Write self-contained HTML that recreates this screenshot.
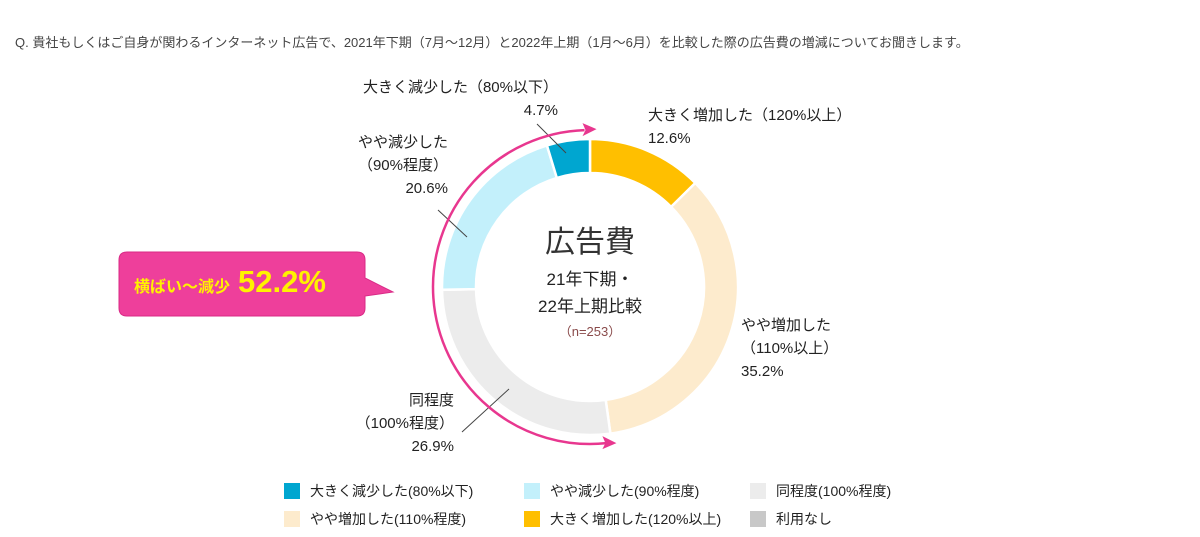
<!DOCTYPE html>
<html><head><meta charset="utf-8">
<style>
body{margin:0;background:#fff;width:1200px;height:532px;overflow:hidden;font-family:"Liberation Sans","Noto Sans CJK JP",sans-serif;color:#333}
svg text{font-family:"Liberation Sans","Noto Sans CJK JP",sans-serif}
</style></head><body>
<svg width="1200" height="532">
<text x="15" y="47" font-size="13" fill="#444">Q.  貴社もしくはご自身が関わるインターネット広告で、2021年下期（7月～12月）と2022年上期（1月～6月）を比較した際の広告費の増減についてお聞きします。</text>
<g id="ring"></g>
<g id="labels"></g>
<text x="590" y="252" font-size="30" text-anchor="middle" fill="#333">広告費</text>
<text x="590" y="285" font-size="17" text-anchor="middle" fill="#222">21年下期・</text>
<text x="590" y="312" font-size="17" text-anchor="middle" fill="#222">22年上期比較</text>
<text x="590" y="336" font-size="13" text-anchor="middle" fill="#8a4b4b">（n=253）</text>
<g>
<path id="arc" fill="none" stroke="#e8378f" stroke-width="2.5"/>
<polygon id="ah1" fill="#e8378f"/><polygon id="ah2" fill="#e8378f"/>
</g>
<g>
<path d="M127,252 H357 Q365,252 365,260 V278 L393,292 L365,296 V308 Q365,316 357,316 H127 Q119,316 119,308 V260 Q119,252 127,252 Z" fill="#ee3f9b" stroke="#d92a86" stroke-width="1"/>
<text x="134" y="292" font-size="16" font-weight="bold" fill="#fff200">横ばい～減少<tspan font-size="31" dx="8">52.2%</tspan></text>
</g>
<g id="legend"></g>
</svg>
<script>
const categories=["大きく増加した（120%以上）","やや増加した（110%以上）","同程度（100%程度）","やや減少した（90%程度）","大きく減少した（80%以下）"];
const values=[12.6,35.2,26.9,20.6,4.7];
const colors=["#ffbf00","#fdebcd","#ececec","#c3f0fb","#00a6d0"];
const legCats=["大きく減少した(80%以下)","やや減少した(90%程度)","同程度(100%程度)","やや増加した(110%程度)","大きく増加した(120%以上)","利用なし"];
const legColors=["#00a6d0","#c3f0fb","#ececec","#fdebcd","#ffbf00","#c8c8c8"];
const NS="http://www.w3.org/2000/svg";
const cx=590,cy=287,R=148,r=114;
function pt(a,rad){const t=(a-90)*Math.PI/180;return [cx+rad*Math.cos(t),cy+rad*Math.sin(t)];}
function ang(v){return v/100*360;}
const ring=document.getElementById('ring');
let acc=0;
values.forEach((v,i)=>{
 const a0=ang(acc),a1=ang(acc+v);acc+=v;
 const L=(a1-a0)>180?1:0;
 const p0=pt(a0,R),p1=pt(a1,R),q1=pt(a1,r),q0=pt(a0,r);
 const p=document.createElementNS(NS,'path');
 p.setAttribute('d',`M${p0} A${R},${R} 0 ${L} 1 ${p1} L${q1} A${r},${r} 0 ${L} 0 ${q0} Z`);
 p.setAttribute('fill',colors[i]);p.setAttribute('stroke','#fff');p.setAttribute('stroke-width','2.5');
 
 
 ring.appendChild(p);
});
const labelSpecs=[
 {lines:[categories[0],values[0].toFixed(1)+"%"],x:648,y:120,anchor:"start"},
 {lines:["やや増加した","（110%以上）",values[1].toFixed(1)+"%"],x:741,y:330,anchor:"start"},
 {lines:["同程度","（100%程度）",values[2].toFixed(1)+"%"],x:454,y:405,anchor:"end"},
 {lines:["やや減少した","（90%程度）",values[3].toFixed(1)+"%"],x:448,y:147,anchor:"end"},
 {lines:[categories[4],values[4].toFixed(1)+"%"],x:558,y:92,anchor:"end"}
];
const lg=document.getElementById('labels');
labelSpecs.forEach((s,i)=>{
 const t=document.createElementNS(NS,'text');
 t.setAttribute('font-size','15');t.setAttribute('fill','#222');t.setAttribute('text-anchor',s.anchor);
 
 
 s.lines.forEach((ln,j)=>{const ts=document.createElementNS(NS,'tspan');ts.setAttribute('x',s.x);ts.setAttribute('y',s.y+j*23);ts.textContent=ln;t.appendChild(ts);});
 lg.appendChild(t);
});
const leaders=[[537,124,566,153],[438,210,467,237],[462,432,509,389]];
leaders.forEach((l)=>{const e=document.createElementNS(NS,'line');e.setAttribute('x1',l[0]);e.setAttribute('y1',l[1]);e.setAttribute('x2',l[2]);e.setAttribute('y2',l[3]);e.setAttribute('stroke','#444');e.setAttribute('stroke-width','1');
 
 
 lg.appendChild(e);});
const AR=157;
const arcTop=-2, arcBot=174;
(function(){
 const p0=pt(arcTop,AR),p1=pt(arcBot,AR);
 document.getElementById('arc').setAttribute('d',`M${p0} A${AR},${AR} 0 1 0 ${p1}`);
 const tx=p0[0],ty=p0[1];document.getElementById('ah1').setAttribute('points',`${tx+12},${ty-1} ${tx-2},${ty-7} ${tx+1},${ty} ${tx-2},${ty+6}`);
 const bx=p1[0],by=p1[1];document.getElementById('ah2').setAttribute('points',`${bx+10},${by} ${bx-4},${by-7} ${bx-1},${by} ${bx-4},${by+6}`);
})();
const leg=document.getElementById('legend');
legCats.forEach((c,i)=>{
 const col=i%3,row=Math.floor(i/3);const x=[284,524,750][col],y=483+row*28;
 const g=document.createElementNS(NS,'g');
 
 
 const rc=document.createElementNS(NS,'rect');rc.setAttribute('x',x);rc.setAttribute('y',y);rc.setAttribute('width',16);rc.setAttribute('height',16);rc.setAttribute('fill',legColors[i]);
 const t=document.createElementNS(NS,'text');t.setAttribute('x',x+26);t.setAttribute('y',y+13);t.setAttribute('font-size','14');t.setAttribute('fill','#222');t.textContent=c;
 g.appendChild(rc);g.appendChild(t);leg.appendChild(g);
});
</script>
</body></html>
